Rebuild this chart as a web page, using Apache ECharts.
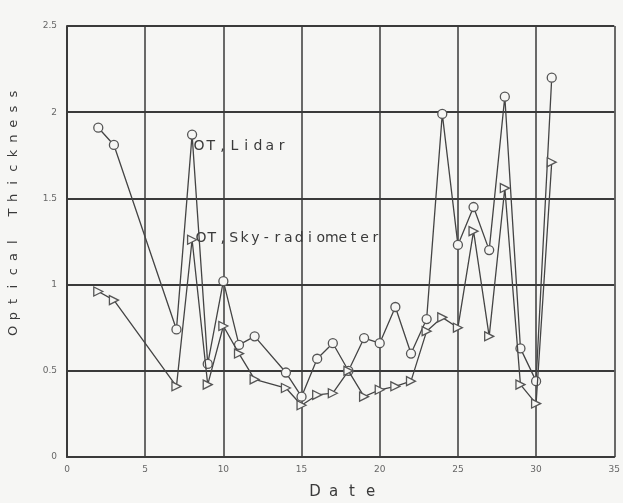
<!DOCTYPE html>
<html>
<head>
<meta charset="utf-8">
<script src="https://cdn.jsdelivr.net/npm/echarts@6/dist/echarts.min.js"></script>
<style>
html,body{margin:0;padding:0;background:#f6f6f4;}
#c{width:623px;height:503px;}
</style>
</head>
<body>
<div id="c"></div>
<script>
const days = [2,3,7,8,9,10,11,12,14,15,16,17,18,19,20,21,22,23,24,25,26,27,28,29,30,31];
const lidar = [1.91,1.81,0.74,1.87,0.54,1.02,0.65,0.70,0.49,0.35,0.57,0.66,0.50,0.69,0.66,0.87,0.60,0.80,1.99,1.23,1.45,1.20,2.09,0.63,0.44,2.20];
const sky = [0.96,0.91,0.41,1.26,0.42,0.76,0.60,0.45,0.40,0.30,0.36,0.37,0.50,0.35,0.39,0.41,0.44,0.73,0.81,0.75,1.31,0.70,1.56,0.42,0.31,1.71];
const xTitle = "Date";
const yTitle = "Optical Thickness";
const lidarLabel = "OT,Lidar";
const skyLabel = "OT,Sky-radiometer";

const ink = '#3a3a3a';
const chart = echarts.init(document.getElementById('c'));

function spaced(str, x0, y0, step, size, rotate) {
  const els = [];
  for (let i = 0; i < str.length; i++) {
    if (str[i] === ' ') continue;
    els.push({
      type: 'text',
      x: rotate ? x0 : x0 + i * step,
      y: rotate ? y0 - i * step : y0,
      rotation: rotate ? Math.PI / 2 : 0,
      style: { text: str[i], font: size + 'px "DejaVu Sans"', fill: ink, textAlign: 'center', textVerticalAlign: 'middle' }
    });
  }
  return els;
}

const graphics = [].concat(
  spaced(lidarLabel, 199, 146, 11.8, 14, false),
  spaced(skyLabel, 201, 238, 10.9, 14, false),
  spaced(xTitle, 315, 492, 18.5, 15, false),
  spaced(yTitle, 14, 331, 14.8, 13, true)
);

chart.setOption({
  backgroundColor: '#f6f6f4',
  animation: false,
  grid: { left: 67, right: 5, top: 26, bottom: 46 },
  xAxis: {
    type: 'value', min: 0, max: 35, interval: 5,
    axisLine: { lineStyle: { color: ink, width: 2 } },
    axisTick: { show: false },
    axisLabel: { color: '#666', fontSize: 9, margin: 8, fontFamily: 'DejaVu Sans' },
    splitLine: { lineStyle: { color: ink, width: 1.5 } }
  },
  yAxis: {
    type: 'value', min: 0, max: 2.5, interval: 0.5,
    axisLine: { show: true, lineStyle: { color: ink, width: 2 } },
    axisTick: { show: false },
    axisLabel: { color: '#666', fontSize: 9, margin: 10, fontFamily: 'DejaVu Sans' },
    splitLine: { lineStyle: { color: ink, width: 1.8 } }
  },
  graphic: graphics,
  series: [
    {
      type: 'line',
      data: days.map((d, i) => [d, lidar[i]]),
      symbol: 'circle', symbolSize: 9,
      lineStyle: { color: '#444', width: 1.3 },
      itemStyle: { color: '#f6f6f4', borderColor: '#555', borderWidth: 1.3 },
      z: 3
    },
    {
      type: 'line',
      data: days.map((d, i) => [d, sky[i]]),
      symbol: 'triangle', symbolSize: 9, symbolRotate: -90,
      lineStyle: { color: '#444', width: 1.3 },
      itemStyle: { color: '#f6f6f4', borderColor: '#555', borderWidth: 1.3 },
      z: 4
    }
  ]
});
</script>
</body>
</html>
